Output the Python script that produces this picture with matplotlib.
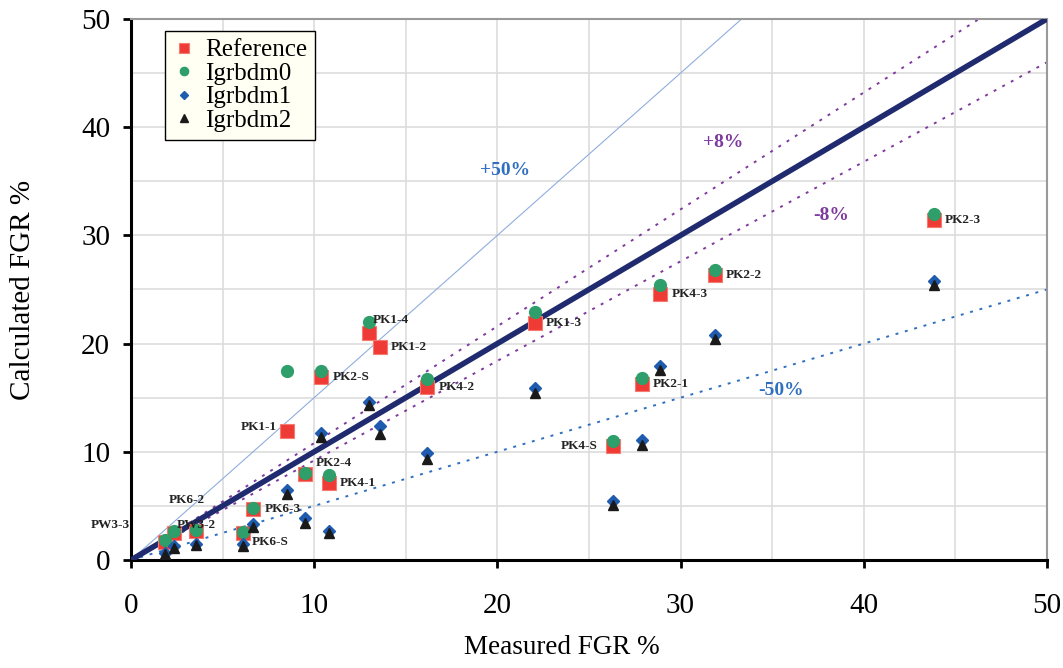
import numpy as np
import matplotlib
matplotlib.use('Agg')
import matplotlib.pyplot as plt

plt.rcParams['font.family'] = ['Liberation Serif', 'DejaVu Serif']

# rod / sample names, measured FGR and the calculated values of each model
names = ['PW3-3', 'PK6-2', 'PW3-2', 'PK6-S', 'PK6-3', 'PK1-1', 'PK2-4', 'PK2-S', 'PK4-1',
         'PK1-4', 'PK1-2', 'PK4-2', 'PK1-3', 'PK4-S', 'PK2-1', 'PK4-3', 'PK2-2', 'PK2-3']
measured = [1.86, 2.37, 3.55, 6.13, 6.68, 8.5, 9.5, 10.4, 10.8,
            12.97, 13.59, 16.17, 22.05, 26.3, 27.9, 28.9, 31.88, 43.83]
reference = [1.7, 2.46, 2.68, 2.53, 4.74, 11.95, 7.92, 16.9, 7.09,
             21.0, 19.7, 15.96, 21.9, 10.5, 16.3, 24.6, 26.3, 31.4]
igrbdm0 = [1.85, 2.71, 2.77, 2.59, 4.84, 17.47, 8.07, 17.47, 7.86,
           22.0, np.nan, 16.7, 22.9, 11.0, 16.8, 25.4, 26.8, 31.95]
igrbdm1 = [0.65, 1.25, 1.5, 1.45, 3.3, 6.5, 3.85, 11.75, 2.71,
           14.6, 12.4, 9.86, 15.87, 5.48, 11.09, 17.93, 20.8, 25.8]
igrbdm2 = [0.55, 1.14, 1.39, 1.32, 3.08, 6.07, 3.39, 11.35, 2.46,
           14.3, 11.65, 9.3, 15.4, 5.08, 10.63, 17.6, 20.4, 25.4]

# label offsets (points) for names that don't sit to the right of the marker
label_offsets = {
    'PK1-1': (-7, 3, 'right'), 'PK1-4': (3, 9, 'left'), 'PK2-4': (8, 8, 'left'),
    'PK6-2': (-4, 24, 'left'), 'PW3-3': (-25, 12, 'right'), 'PW3-2': (-14, 4, 'left'),
    'PK6-S': (6, -7, 'left'), 'PK4-S': (-11, 0, 'right'),
}

fig = plt.figure(figsize=(10.63, 6.68), dpi=100)
ax = fig.add_axes([0.1232, 0.1617, 0.8617, 0.8099])

xx = np.array([0, 50])
ax.plot(xx, 1.5 * xx, color='#8FAEDD', lw=0.8, zorder=2)
ax.plot(xx, 1.08 * xx, color='#7E3A9E', lw=1.4, ls=(0, (1.5, 3.5)), zorder=2)
ax.plot(xx, 0.92 * xx, color='#7E3A9E', lw=1.4, ls=(0, (1.5, 3.5)), zorder=2)
ax.plot(xx, 0.5 * xx, color='#2F6FC0', lw=1.4, ls=(0, (1.5, 3.5)), zorder=2)
ax.plot(xx, xx, color='#1F2B6E', lw=4, zorder=3)

ax.plot(measured, reference, 's', color='#EF3B36', mec='#F77A70', mew=0.8, ms=10,
        ls='none', label='Reference', zorder=4)
ax.plot(measured, igrbdm0, 'o', color='#2E9E6B', mec='#2E9E6B', ms=8.5,
        ls='none', label='Igrbdm0', zorder=5)
ax.plot(measured, igrbdm1, 'D', color='#1F5BAF', mec='#1F5BAF', ms=6,
        ls='none', label='Igrbdm1', zorder=6)
ax.plot(measured, igrbdm2, '^', color='#1A1A1A', mec='#1A1A1A', ms=7.5,
        ls='none', label='Igrbdm2', zorder=7)

for name, x, y in zip(names, measured, reference):
    dx, dy, ha = label_offsets.get(name, (8, 0, 'left'))
    ax.annotate(name, (x, y), xytext=(dx, dy), textcoords='offset points',
                ha=ha, va='center', fontsize=9.5, fontweight='bold', color='#222222', zorder=8)

ax.text(20.4, 36.0, '+50%', color='#2F6FC0', fontsize=14, fontweight='bold', ha='center', va='center')
ax.text(32.3, 38.6, '+8%', color='#7E3A9E', fontsize=14, fontweight='bold', ha='center', va='center')
ax.text(38.2, 31.8, '-8%', color='#7E3A9E', fontsize=14, fontweight='bold', ha='center', va='center')
ax.text(35.5, 15.7, '-50%', color='#2F6FC0', fontsize=14, fontweight='bold', ha='center', va='center')

ax.set_xlim(0, 50)
ax.set_ylim(0, 50)
ax.set_xticks(range(0, 51, 10))
ax.set_yticks(range(0, 51, 10))
ax.set_xticks(range(5, 50, 10), minor=True)
ax.set_yticks(range(5, 50, 10), minor=True)
ax.grid(True, which='both', color='#DDDDDD', lw=1.2, zorder=0)
ax.set_axisbelow(True)
ax.tick_params(which='major', direction='out', length=6, width=2, labelsize=21, pad=9)
ax.tick_params(axis='x', which='major', pad=18)
ax.tick_params(which='minor', length=0)

for side in ['left', 'bottom']:
    ax.spines[side].set_linewidth(2.2)
    ax.spines[side].set_color('black')
for side in ['top', 'right']:
    ax.spines[side].set_linewidth(1.5)
    ax.spines[side].set_color('#999999')

ax.set_xlabel('Measured FGR %', fontsize=19.5)
ax.xaxis.set_label_coords(0.47, -0.138)
ax.set_ylabel('Calculated FGR %', fontsize=21)
ax.yaxis.set_label_coords(-0.104, 0.5)

leg = ax.legend(loc='upper left', bbox_to_anchor=(0.037, 0.978), borderaxespad=0,
                fontsize=18, frameon=True, fancybox=False, framealpha=1,
                facecolor='#FFFFF3', edgecolor='black', markerscale=0.7,
                handlelength=0.9, handletextpad=0.4, labelspacing=0.04,
                borderpad=0.32)
leg.get_frame().set_linewidth(1.0)

fig.savefig('out.png', dpi=100)
